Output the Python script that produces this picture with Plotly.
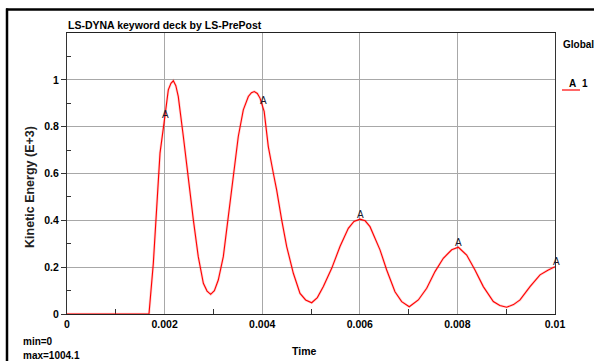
import plotly.graph_objects as go

# ---- data ----
time_s = [0.0, 0.00168, 0.001769, 0.001838, 0.001906, 0.001988, 0.002076, 0.002130, 0.002179,
          0.002230, 0.00228, 0.002384, 0.002486, 0.002589, 0.00269, 0.002794, 0.002870, 0.002944,
          0.003020, 0.0031, 0.003203, 0.003306, 0.003408, 0.00351, 0.003613, 0.003716, 0.003780, 0.003838,
          0.003900, 0.003955, 0.004040, 0.004125, 0.004228, 0.004296, 0.004399, 0.004502,
          0.004638, 0.004775, 0.004890, 0.005014, 0.005130, 0.005253, 0.005424, 0.005594, 0.005765,
          0.005880, 0.006004, 0.006110, 0.006209, 0.006414, 0.006551, 0.006721, 0.006858, 0.007014,
          0.007199, 0.007371, 0.007541, 0.007711, 0.007883, 0.008019, 0.00819,
          0.00836, 0.008531, 0.008736, 0.008870, 0.00901, 0.009150, 0.009283, 0.009488, 0.009693,
          0.009863, 0.01]
ke = [0.0, 0.0, 0.217, 0.473, 0.687, 0.815, 0.957, 0.985, 0.996,
      0.975, 0.929, 0.758, 0.573, 0.402, 0.245, 0.131, 0.098, 0.084,
      0.100, 0.145, 0.245, 0.416, 0.587, 0.758, 0.872, 0.929, 0.945, 0.950,
      0.942, 0.922, 0.865, 0.715, 0.601, 0.530, 0.402, 0.288,
      0.174, 0.088, 0.060, 0.048, 0.070, 0.117, 0.195, 0.288, 0.366,
      0.395, 0.405, 0.398, 0.373, 0.274, 0.188, 0.095, 0.053, 0.031,
      0.060, 0.110, 0.181, 0.238, 0.274, 0.285, 0.252,
      0.188, 0.117, 0.053, 0.036, 0.029, 0.040, 0.060, 0.117, 0.167,
      0.188, 0.202]

marker_t = [0.002, 0.004, 0.006, 0.008, 0.01]
marker_v = [0.83, 0.89, 0.405, 0.285, 0.202]
marker_label = "A"

x_ticks = [0, 0.002, 0.004, 0.006, 0.008, 0.01]
x_tick_text = ["0", "0.002", "0.004", "0.006", "0.008", "0.01"]
x_minor = [0.001, 0.003, 0.005, 0.007, 0.009]
y_ticks = [0, 0.2, 0.4, 0.6, 0.8, 1.0]
y_tick_text = ["0", "0.2", "0.4", "0.6", "0.8", "1"]
y_minor = [0.1, 0.3, 0.5, 0.7, 0.9, 1.1]

title_text = "LS-DYNA keyword deck by LS-PrePost"
x_title = "Time"
y_title = "Kinetic Energy (E+3)"
legend_head = "Global"
legend_id = "1"
min_text = "min=0"
max_text = "max=1004.1"

FONT = "Liberation Sans, Arial, sans-serif"

fig = go.Figure()
fig.add_trace(go.Scatter(x=time_s, y=ke, mode="lines", line=dict(color="rgba(255,0,0,0.18)", width=2.6),
                         cliponaxis=False, hoverinfo="skip", showlegend=False))
fig.add_trace(go.Scatter(x=time_s, y=ke, mode="lines", line=dict(color="#ff0000", width=1.1),
                         cliponaxis=False, showlegend=False))

for t, v in zip(marker_t, marker_v):
    fig.add_annotation(x=t, y=v, xref="x", yref="y", text=marker_label, showarrow=False,
                       yshift=5, xshift=1, font=dict(family=FONT, size=10, color="#1a1a2e"))

W, H = 594, 361
L, R, T, B = 67, 555, 33, 314
pw, ph = R - L, B - T

def px(xp):
    return (xp - L) / pw

def py(yp):
    return (B - yp) / ph

fig.update_layout(
    width=W, height=H,
    margin=dict(l=L, r=W - R, t=T, b=H - B),
    paper_bgcolor="white", plot_bgcolor="white",
    showlegend=False,
    xaxis=dict(range=[0, 0.01], tickmode="array", tickvals=x_ticks, ticktext=x_tick_text,
               showgrid=True, gridcolor="#a8a8a8", gridwidth=1, zeroline=False,
               showline=True, linecolor="#222", linewidth=1.2, mirror=True, layer="below traces",
               ticks="", tickfont=dict(family=FONT, size=10.5, color="black", weight="bold"),
               minor=dict(tickvals=x_minor, ticks="inside", ticklen=5, tickcolor="#333", showgrid=False)),
    yaxis=dict(range=[0, 1.2], tickmode="array", tickvals=y_ticks, ticktext=y_tick_text,
               showgrid=True, gridcolor="#a8a8a8", gridwidth=1, zeroline=False,
               showline=True, linecolor="#333", linewidth=1.2, mirror=True, layer="below traces",
               ticks="outside", ticklen=5, tickcolor="#333",
               tickfont=dict(family=FONT, size=10.5, color="black", weight="bold"),
               minor=dict(tickvals=y_minor, ticks="inside", ticklen=4, tickcolor="#333", showgrid=False)),
)

# texts
fig.add_annotation(x=px(66), y=py(24.5), xref="paper", yref="paper", xanchor="left", yanchor="middle",
                   text=title_text, showarrow=False, font=dict(family=FONT, size=10.5, color="black", weight="bold"))
fig.add_annotation(x=px(561), y=py(44), xref="paper", yref="paper", xanchor="left", yanchor="middle",
                   text=legend_head, showarrow=False, font=dict(family=FONT, size=10, color="black", weight="bold"))
fig.add_annotation(x=px(567), y=py(83), xref="paper", yref="paper", xanchor="left", yanchor="middle",
                   text="A", showarrow=False, font=dict(family=FONT, size=10, color="black", weight="bold"))
fig.add_annotation(x=px(580), y=py(83), xref="paper", yref="paper", xanchor="left", yanchor="middle",
                   text=legend_id, showarrow=False, font=dict(family=FONT, size=10, color="black", weight="bold"))
fig.add_annotation(x=px(304), y=py(351), xref="paper", yref="paper", xanchor="center", yanchor="middle",
                   text=x_title, showarrow=False, font=dict(family=FONT, size=10.5, color="black", weight="bold"))
fig.add_annotation(x=px(30), y=py(187), xref="paper", yref="paper", xanchor="center", yanchor="middle",
                   text=y_title, textangle=-90, showarrow=False, font=dict(family=FONT, size=12.5, color="#222", weight="bold"))
fig.add_annotation(x=px(21), y=py(341), xref="paper", yref="paper", xanchor="left", yanchor="middle",
                   text=min_text, showarrow=False, font=dict(family=FONT, size=10, color="black", weight="bold"))
fig.add_annotation(x=px(21), y=py(355), xref="paper", yref="paper", xanchor="left", yanchor="middle",
                   text=max_text, showarrow=False, font=dict(family=FONT, size=10, color="black", weight="bold"))

# frame lines and legend sample
fig.add_shape(type="line", xref="paper", yref="paper", x0=px(6), x1=px(600), y0=py(9.5), y1=py(9.5),
              line=dict(color="black", width=2.5))
fig.add_shape(type="line", xref="paper", yref="paper", x0=px(7), x1=px(7), y0=py(8.5), y1=py(365),
              line=dict(color="black", width=2.5))
fig.add_shape(type="line", xref="paper", yref="paper", x0=px(562), x1=px(580), y0=py(90), y1=py(90),
              line=dict(color="#ff0000", width=1.2))

fig.write_html("out.html")
